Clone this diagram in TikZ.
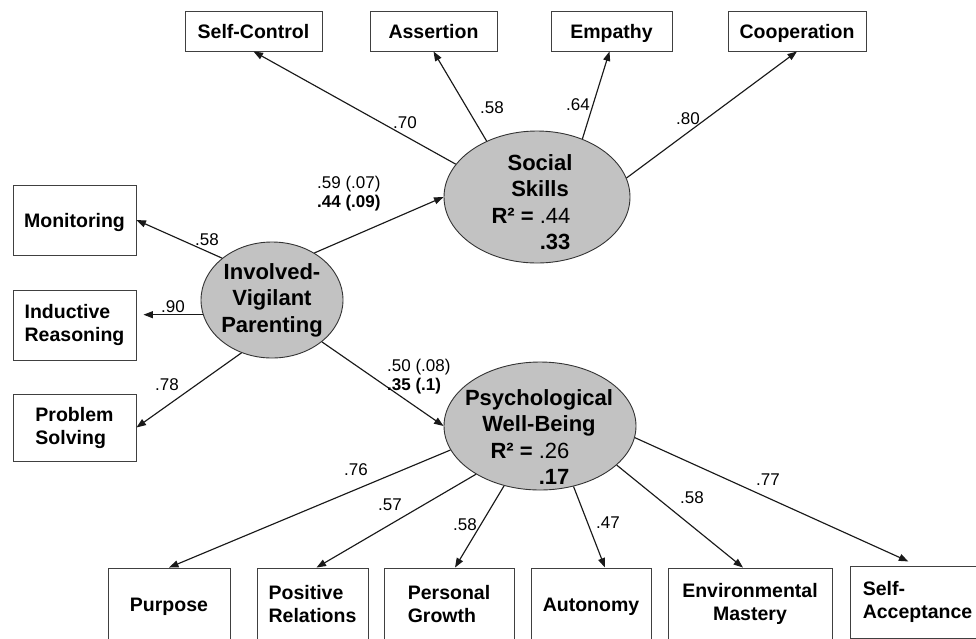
\documentclass[tikz,border=0pt]{standalone}
\usepackage{fontspec}
\setmainfont{Liberation Sans}
\usetikzlibrary{shapes.geometric,arrows.meta}
\newcommand\bxf{\bfseries\fontsize{19.5}{23}\selectfont}
\newcommand\ltf{\bfseries\fontsize{22}{26.5}\selectfont}
\newcommand\lbf{\fontsize{17}{19}\selectfont}
\newcommand\padr{\rule{18pt}{0pt}}
\begin{document}
\begin{tikzpicture}[x=1pt,y=-1pt,
  box/.style={draw=black!75, line width=0.9pt, fill=white, font=\bxf, align=left, inner sep=0pt},
  oneline/.style={text height=14pt, text depth=0pt},
  lat/.style={ellipse, draw=black!80, line width=0.9pt, fill=black!24, inner sep=0pt},
  lattext/.style={font=\ltf, inner sep=0pt, align=center},
  arr/.style={-{Triangle[length=9.5pt,width=7pt]}, line width=1.15pt, draw=black!90},
  lab/.style={font=\lbf, inner sep=0pt},
]
\useasboundingbox (0,0) rectangle (976,638);

% top indicators
\node[box, oneline, minimum width=137pt, minimum height=40pt] (sc) at (253.5,31) {Self-Control};
\node[box, oneline, minimum width=127pt, minimum height=40pt] (as) at (433.5,31) {Assertion};
\node[box, oneline, minimum width=121pt, minimum height=40pt] (em) at (611.5,31) {Empathy};
\node[box, oneline, minimum width=138pt, minimum height=40pt] (co) at (797,31) {Cooperation};

% left indicators
\node[box, oneline, minimum width=123pt, minimum height=70pt] (mon) at (74.5,220) {Monitoring};
\node[box, minimum width=123pt, minimum height=70pt] (ind) at (74.5,325) {Inductive\\Reasoning};
\node[box, minimum width=123pt, minimum height=67pt] (ps) at (74.5,427.5) {Problem\\Solving};

% bottom indicators
\node[box, oneline, minimum width=122pt, minimum height=72pt] (pur) at (169,604) {Purpose};
\node[box, minimum width=111pt, minimum height=72pt] (pr) at (312.5,604) {Positive\\Relations};
\node[box, minimum width=130pt, minimum height=72pt] (pg) at (449,604) {Personal\\Growth};
\node[box, oneline, minimum width=120pt, minimum height=72pt] (aut) at (591,604) {Autonomy};
\node[box, minimum width=164pt, minimum height=72pt, align=center] (emas) at (750,604) {Environmental\\Mastery};
\node[box, minimum width=135pt, minimum height=72pt] (sa) at (917.5,602) {Self-\\Acceptance};

% latent variables
\node[lat, minimum width=186pt, minimum height=132pt] (ss) at (537,197) {};
\node[lat, minimum width=142pt, minimum height=116pt] (ivp) at (272,300) {};
\node[lat, minimum width=192pt, minimum height=128pt] (pwb) at (540,426) {};

\node[lattext] (sst) at (540,202) {Social\\Skills\\R² = \mdseries .44\padr\\\hphantom{R² = }.33\padr};
\node[lattext] (ivpt) at (272,300) {Involved-\\Vigilant\\Parenting};
\node[lattext] (pwbt) at (539,437) {Psychological\\Well-Being\\R² = \mdseries .26\padr\\\hphantom{R² = }.17\padr};

% social skills loadings
\draw[arr] (ss.158) -- (sc.south);
\draw[arr] (ss.132) -- (as.south);
\draw[arr] (ss.52) -- ([xshift=-2pt]em.south);
\draw[arr] (ss.12) -- (co.south);

% parenting loadings
\draw[arr] (ivp.140) -- (mon.east);
\draw[arr, shorten >=7pt] (ivp.192) -- (ind.east |- ivp.192);
\draw[arr] (ivp.240) -- (ps.east);

% structural paths
\draw[arr] (ivp.48) -- (ss.west);
\draw[arr] (ivp.-40) -- (pwb.west);

% well-being loadings
\draw[arr] (pwb.195) -- (pur.north);
\draw[arr] (pwb.217) -- ([xshift=4pt]pr.north);
\draw[arr] (pwb.239) -- ([xshift=6pt]pg.north);
\draw[arr] (pwb.299) -- ([xshift=14pt]aut.north);
\draw[arr] (pwb.333) -- ([xshift=-7pt]emas.north);
\draw[arr, shorten >=10pt] (pwb.353) -- (sa.north);

% labels
\node[lab] (lsc) at (405,123) {.70};
\node[lab] (las) at (492,108) {.58};
\node[lab] (lem) at (578,105) {.64};
\node[lab] (lco) at (688,119) {.80};
\node[lab] (lmon) at (207,240) {.58};
\node[lab] (lind) at (173,307) {.90};
\node[lab] (lps) at (167,385) {.78};
\node[lab, align=left, anchor=west] (lss) at (317,194) {.59 (.07)\\\textbf{.44 (.09)}};
\node[lab, align=left, anchor=west] (lpwb) at (387,377) {.50 (.08)\\\textbf{.35 (.1)}};
\node[lab] (lpur) at (356,470) {.76};
\node[lab] (lpr) at (390,505) {.57};
\node[lab] (lpg) at (465,525) {.58};
\node[lab] (laut) at (608,523) {.47};
\node[lab] (lemas) at (692,498) {.58};
\node[lab] (lsa) at (768,480) {.77};
\end{tikzpicture}
\end{document}
